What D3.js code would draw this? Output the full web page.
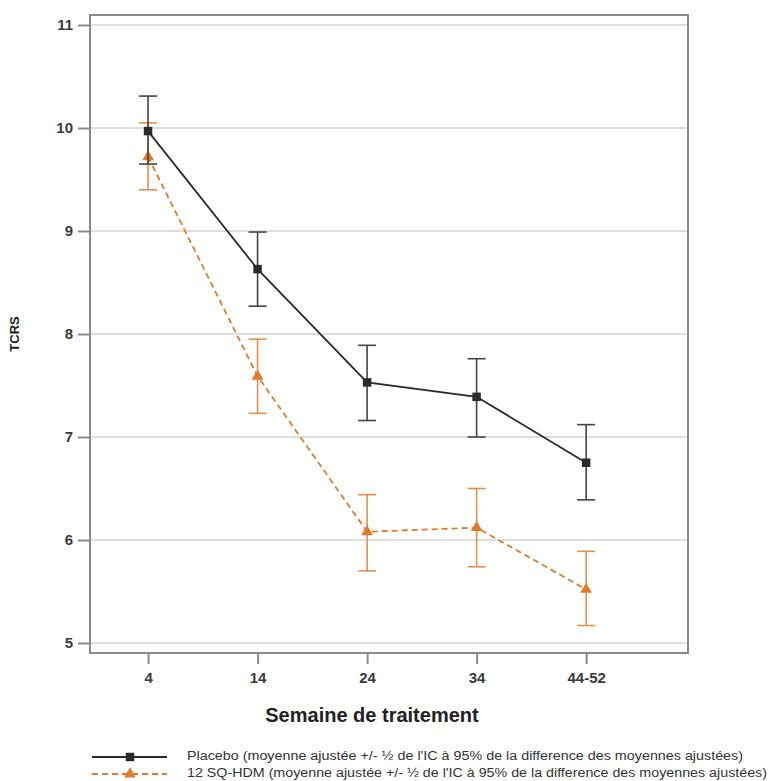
<!DOCTYPE html>
<html><head><meta charset="utf-8">
<script src="https://cdn.jsdelivr.net/npm/d3@7"></script>
<style>body{margin:0;background:#fff}</style>
</head><body><svg id="c" width="768" height="781"></svg>
<script>
const weeks = [4, 14, 24, 34, 44];
const weekLabels = ["4", "14", "24", "34", "44-52"];
const placeboMean = [9.97, 8.63, 7.53, 7.39, 6.75];
const placeboLow  = [9.65, 8.27, 7.16, 7.00, 6.39];
const placeboHigh = [10.31, 8.99, 7.89, 7.76, 7.12];
const activeMean = [9.72, 7.59, 6.08, 6.12, 5.52];
const activeLow  = [9.40, 7.23, 5.70, 5.74, 5.17];
const activeHigh = [10.05, 7.95, 6.44, 6.50, 5.89];
const yTicks = [5, 6, 7, 8, 9, 10, 11];
const legendLabels = [
  "Placebo (moyenne ajustée +/- ½ de l'IC à 95% de la difference des moyennes ajustées)",
  "12 SQ-HDM (moyenne ajustée +/- ½ de l'IC à 95% de la difference des moyennes ajustées)"
];

const svg = d3.select("#c");
const L = 90, R = 688, T = 15, B = 653;
const x = d3.scaleLinear().domain([-1.3, 53.3]).range([L, R]);
const y = d3.scaleLinear().domain([5, 11]).range([643, 25]);
const font = "'Liberation Sans', Arial, sans-serif";

// gridlines
svg.append("g").selectAll("line").data(yTicks).join("line")
  .attr("x1", L).attr("x2", R).attr("y1", d => y(d)).attr("y2", d => y(d))
  .attr("stroke", "#dedede").attr("stroke-width", 2);

// frame
svg.append("rect").attr("x", L).attr("y", T).attr("width", R - L).attr("height", B - T)
  .attr("fill", "none").attr("stroke", "#8a8a8a").attr("stroke-width", 2);

// y axis
const ya = svg.append("g").attr("transform", `translate(${L},0)`)
  .call(d3.axisLeft(y).tickValues(yTicks).tickSize(12).tickPadding(5).tickFormat(d3.format("d")));
ya.select(".domain").remove();
ya.selectAll("line").attr("stroke", "#8a8a8a").attr("stroke-width", 2);
ya.selectAll("text").attr("font-family", font).attr("font-size", 15).attr("font-weight", "bold").attr("fill", "#3a3a3a");

// x axis
const xa = svg.append("g").attr("transform", `translate(0,${B})`)
  .call(d3.axisBottom(x).tickValues(weeks).tickSize(11).tickPadding(8).tickFormat((d, i) => weekLabels[i]));
xa.select(".domain").remove();
xa.selectAll("line").attr("stroke", "#8a8a8a").attr("stroke-width", 2);
xa.selectAll("text").attr("font-family", font).attr("font-size", 15).attr("font-weight", "bold").attr("fill", "#3a3a3a");

// axis titles
svg.append("text").attr("x", 372).attr("y", 722).attr("text-anchor", "middle")
  .attr("font-family", font).attr("font-size", 20).attr("font-weight", "bold").attr("fill", "#222")
  .text("Semaine de traitement");
svg.append("text").attr("transform", "translate(19,334) rotate(-90)").attr("text-anchor", "middle")
  .attr("font-family", font).attr("font-size", 13).attr("font-weight", "bold").attr("fill", "#222")
  .text("TCRS");

const orange = "#e07b2c";
const orangeBar = "#e4904f";
const dark = "#2a2a2a";

function drawSeries(mean, low, high, lineColor, barColor, dash, marker) {
  const g = svg.append("g");
  weeks.forEach((w, i) => {
    const cx = x(w);
    g.append("line").attr("x1", cx).attr("x2", cx).attr("y1", y(low[i])).attr("y2", y(high[i]))
      .attr("stroke", barColor).attr("stroke-width", 1.6);
    [low[i], high[i]].forEach(v => {
      g.append("line").attr("x1", cx - 9).attr("x2", cx + 9).attr("y1", y(v)).attr("y2", y(v))
        .attr("stroke", barColor).attr("stroke-width", 1.6);
    });
  });
  const line = d3.line().x((d, i) => x(weeks[i])).y(d => y(d));
  g.append("path").attr("d", line(mean)).attr("fill", "none").attr("stroke", lineColor)
    .attr("stroke-width", 1.8).attr("stroke-dasharray", dash);
  g.selectAll(".m").data(mean).join("path")
    .attr("transform", (d, i) => `translate(${x(weeks[i])},${y(d)})`)
    .attr("d", marker).attr("fill", lineColor);
}
const squareSym = d3.symbol().type(d3.symbolSquare).size(72)();
const triSym = d3.symbol().type(d3.symbolTriangle).size(60)();

drawSeries(activeMean, activeLow, activeHigh, orange, orangeBar, "6,4", triSym);
drawSeries(placeboMean, placeboLow, placeboHigh, dark, "#444", null, squareSym);

// legend
const legY = [757, 774];
const lg = svg.append("g");
lg.append("line").attr("x1", 92).attr("x2", 167).attr("y1", legY[0]).attr("y2", legY[0])
  .attr("stroke", dark).attr("stroke-width", 1.8);
lg.append("path").attr("transform", `translate(130,${legY[0]})`).attr("d", squareSym).attr("fill", dark);
lg.append("line").attr("x1", 92).attr("x2", 167).attr("y1", legY[1]).attr("y2", legY[1])
  .attr("stroke", orange).attr("stroke-width", 1.8).attr("stroke-dasharray", "6,4");
lg.append("path").attr("transform", `translate(130,${legY[1]})`).attr("d", triSym).attr("fill", orange);
const legEnds = [743, 767];
legendLabels.forEach((t, i) => {
  lg.append("text").attr("x", 187).attr("y", legY[i] + 3)
    .attr("font-family", "'Liberation Sans Narrow', 'Liberation Sans', Arial, sans-serif")
    .attr("font-size", 12).attr("fill", "#333")
    .attr("textLength", legEnds[i] - 187).attr("lengthAdjust", "spacingAndGlyphs")
    .text(t);
});
</script></body></html>
